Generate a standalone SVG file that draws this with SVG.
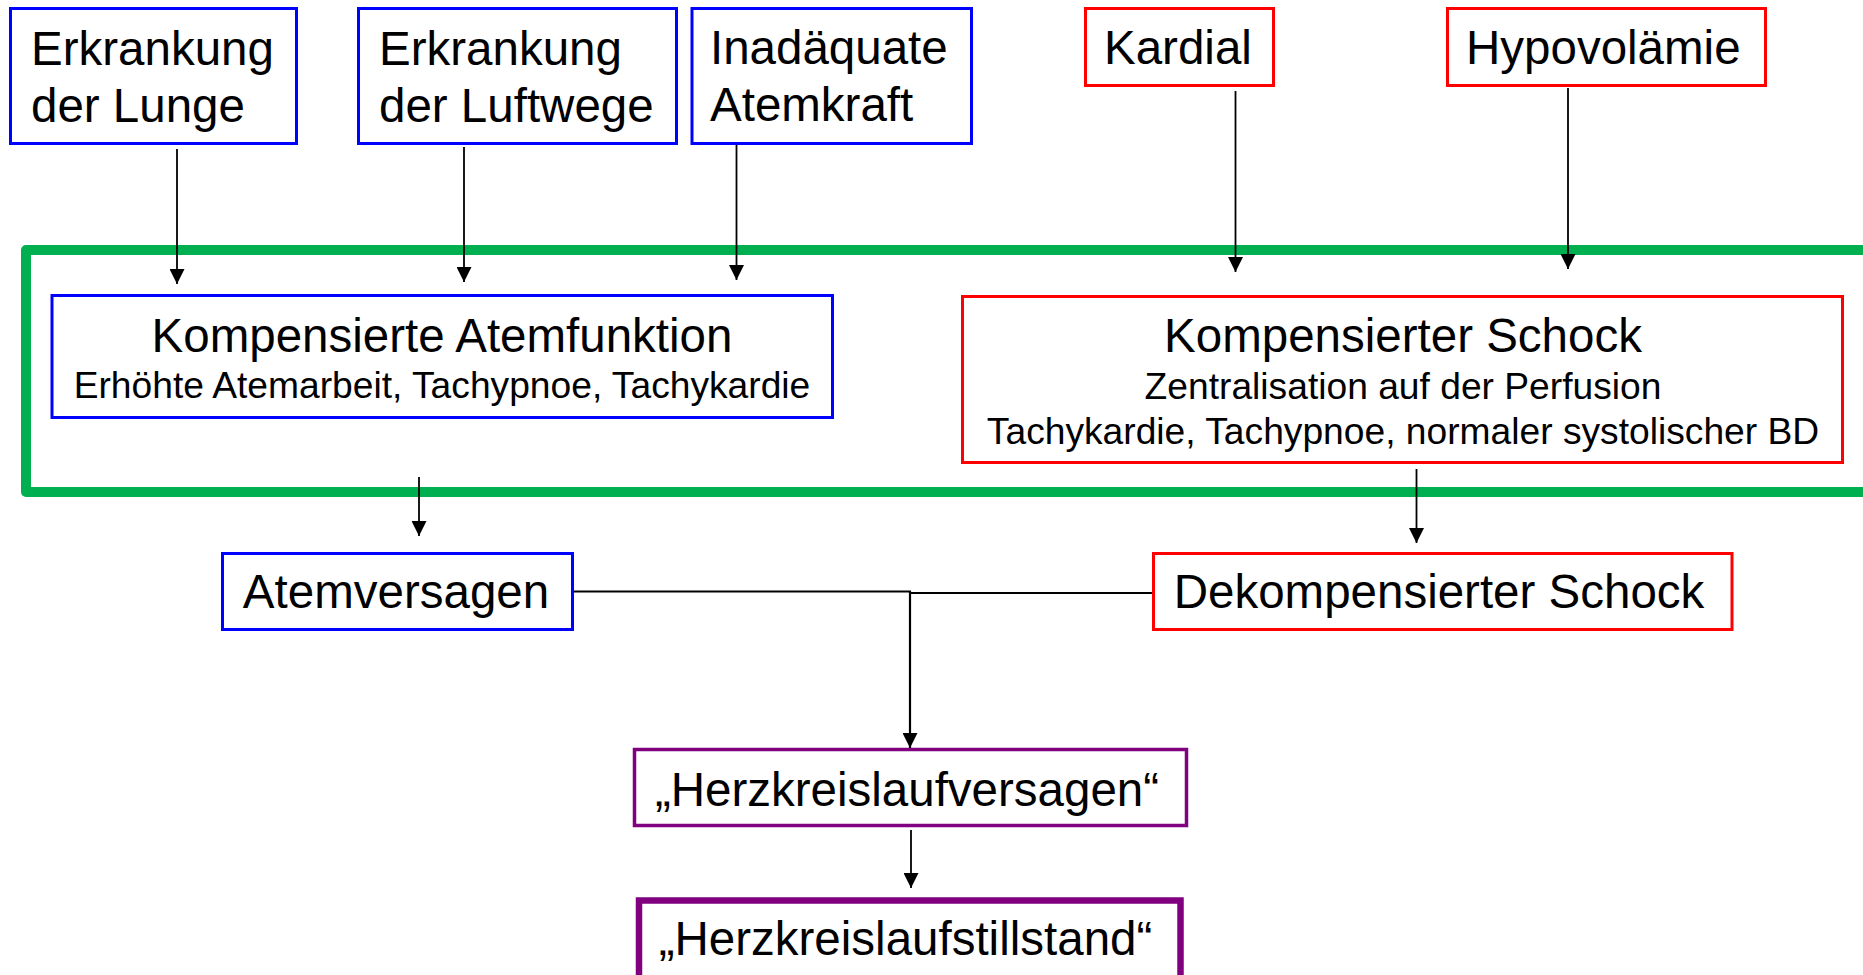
<svg xmlns="http://www.w3.org/2000/svg" width="1863" height="975" viewBox="0 0 1863 975">
<style>
.t{font-family:"Liberation Sans",Arial,sans-serif;fill:#000;}
.big{font-size:47.5px;}
.sm{font-size:37.2px;}
.mid{text-anchor:middle;}
.blue{fill:#fff;stroke:#0000ff;stroke-width:3;}
.red{fill:#fff;stroke:#ff0000;stroke-width:3;}
.pur{fill:#fff;stroke:#800080;stroke-width:3.5;}
.pur2{fill:#fff;stroke:#800080;stroke-width:6.5;}
.arr{stroke:#000;stroke-width:1.8;fill:none;marker-end:url(#ah);}
.ln{stroke:#000;stroke-width:2.2;fill:none;}
</style>
<defs>
<marker id="ah" markerUnits="userSpaceOnUse" markerWidth="15" markerHeight="15" viewBox="0 0 15 15" refX="15" refY="7.5" orient="auto">
<path d="M0,0 L15,7.5 L0,15 z" fill="#000"/>
</marker>
</defs>
<rect width="1863" height="975" fill="#fff"/>
<g id="frame">
<rect x="26" y="250" width="1900" height="242" fill="none" stroke="#00b050" stroke-width="10" stroke-linejoin="round"/>
</g>
<g id="n1"><rect class="blue" x="10.5" y="8.5" width="286" height="135"/>
<text class="t big" x="31" y="65">Erkrankung</text><text class="t big" x="31" y="122">der Lunge</text></g>
<g id="n2"><rect class="blue" x="358.5" y="8.5" width="318" height="135"/>
<text class="t big" x="379" y="65">Erkrankung</text><text class="t big" x="379" y="122">der Luftwege</text></g>
<g id="n3"><rect class="blue" x="692" y="8.5" width="279.5" height="135"/>
<text class="t big" x="710" y="64">Inadäquate</text><text class="t big" x="710" y="121">Atemkraft</text></g>
<g id="n4"><rect class="red" x="1085.5" y="8.5" width="188" height="77"/>
<text class="t big" x="1104" y="64">Kardial</text></g>
<g id="n5"><rect class="red" x="1447.5" y="8.5" width="318" height="77"/>
<text class="t big" x="1466" y="64">Hypovolämie</text></g>
<g id="n6"><rect class="blue" x="52" y="295.5" width="780.5" height="122"/>
<text class="t big mid" x="442" y="352">Kompensierte Atemfunktion</text>
<text class="t sm mid" x="442" y="398">Erhöhte Atemarbeit, Tachypnoe, Tachykardie</text></g>
<g id="n7"><rect class="red" x="962.5" y="296.5" width="880" height="166"/>
<text class="t big mid" x="1403" y="352">Kompensierter Schock</text>
<text class="t sm mid" x="1403" y="399">Zentralisation auf der Perfusion</text>
<text class="t sm mid" x="1403" y="444">Tachykardie, Tachypnoe, normaler systolischer BD</text></g>
<g id="n8"><rect class="blue" x="222.5" y="553.5" width="350" height="76"/>
<text class="t big mid" x="396" y="608">Atemversagen</text></g>
<g id="n9"><rect class="red" x="1153.5" y="553.5" width="578.5" height="76"/>
<text class="t big mid" x="1439" y="608">Dekompensierter Schock</text></g>
<g id="n10"><rect class="pur" x="634.5" y="749.5" width="552" height="76"/>
<text class="t big mid" x="907" y="806">„Herzkreislaufversagen“</text></g>
<g id="n11"><rect class="pur2" x="639" y="900.5" width="541.5" height="100"/>
<text class="t big mid" x="905.5" y="955">„Herzkreislaufstillstand“</text></g>
<g id="connectors">
<line class="arr" x1="177" y1="149" x2="177" y2="284"/>
<line class="arr" x1="464" y1="147" x2="464" y2="282"/>
<line class="arr" x1="736.5" y1="145" x2="736.5" y2="280"/>
<line class="arr" x1="1235.5" y1="91" x2="1235.5" y2="272"/>
<line class="arr" x1="1568" y1="88" x2="1568" y2="269"/>
<line class="arr" x1="419" y1="477" x2="419" y2="536"/>
<line class="arr" x1="1416.5" y1="469" x2="1416.5" y2="543"/>
<polyline class="ln" points="574,591.5 911,591.5"/>
<polyline class="ln" points="1152,593 910,593"/>
<line class="arr" x1="910" y1="591" x2="910" y2="748" style="stroke-width:2.2"/>
<line class="arr" x1="911" y1="830" x2="911" y2="888"/>
</g>
</svg>
